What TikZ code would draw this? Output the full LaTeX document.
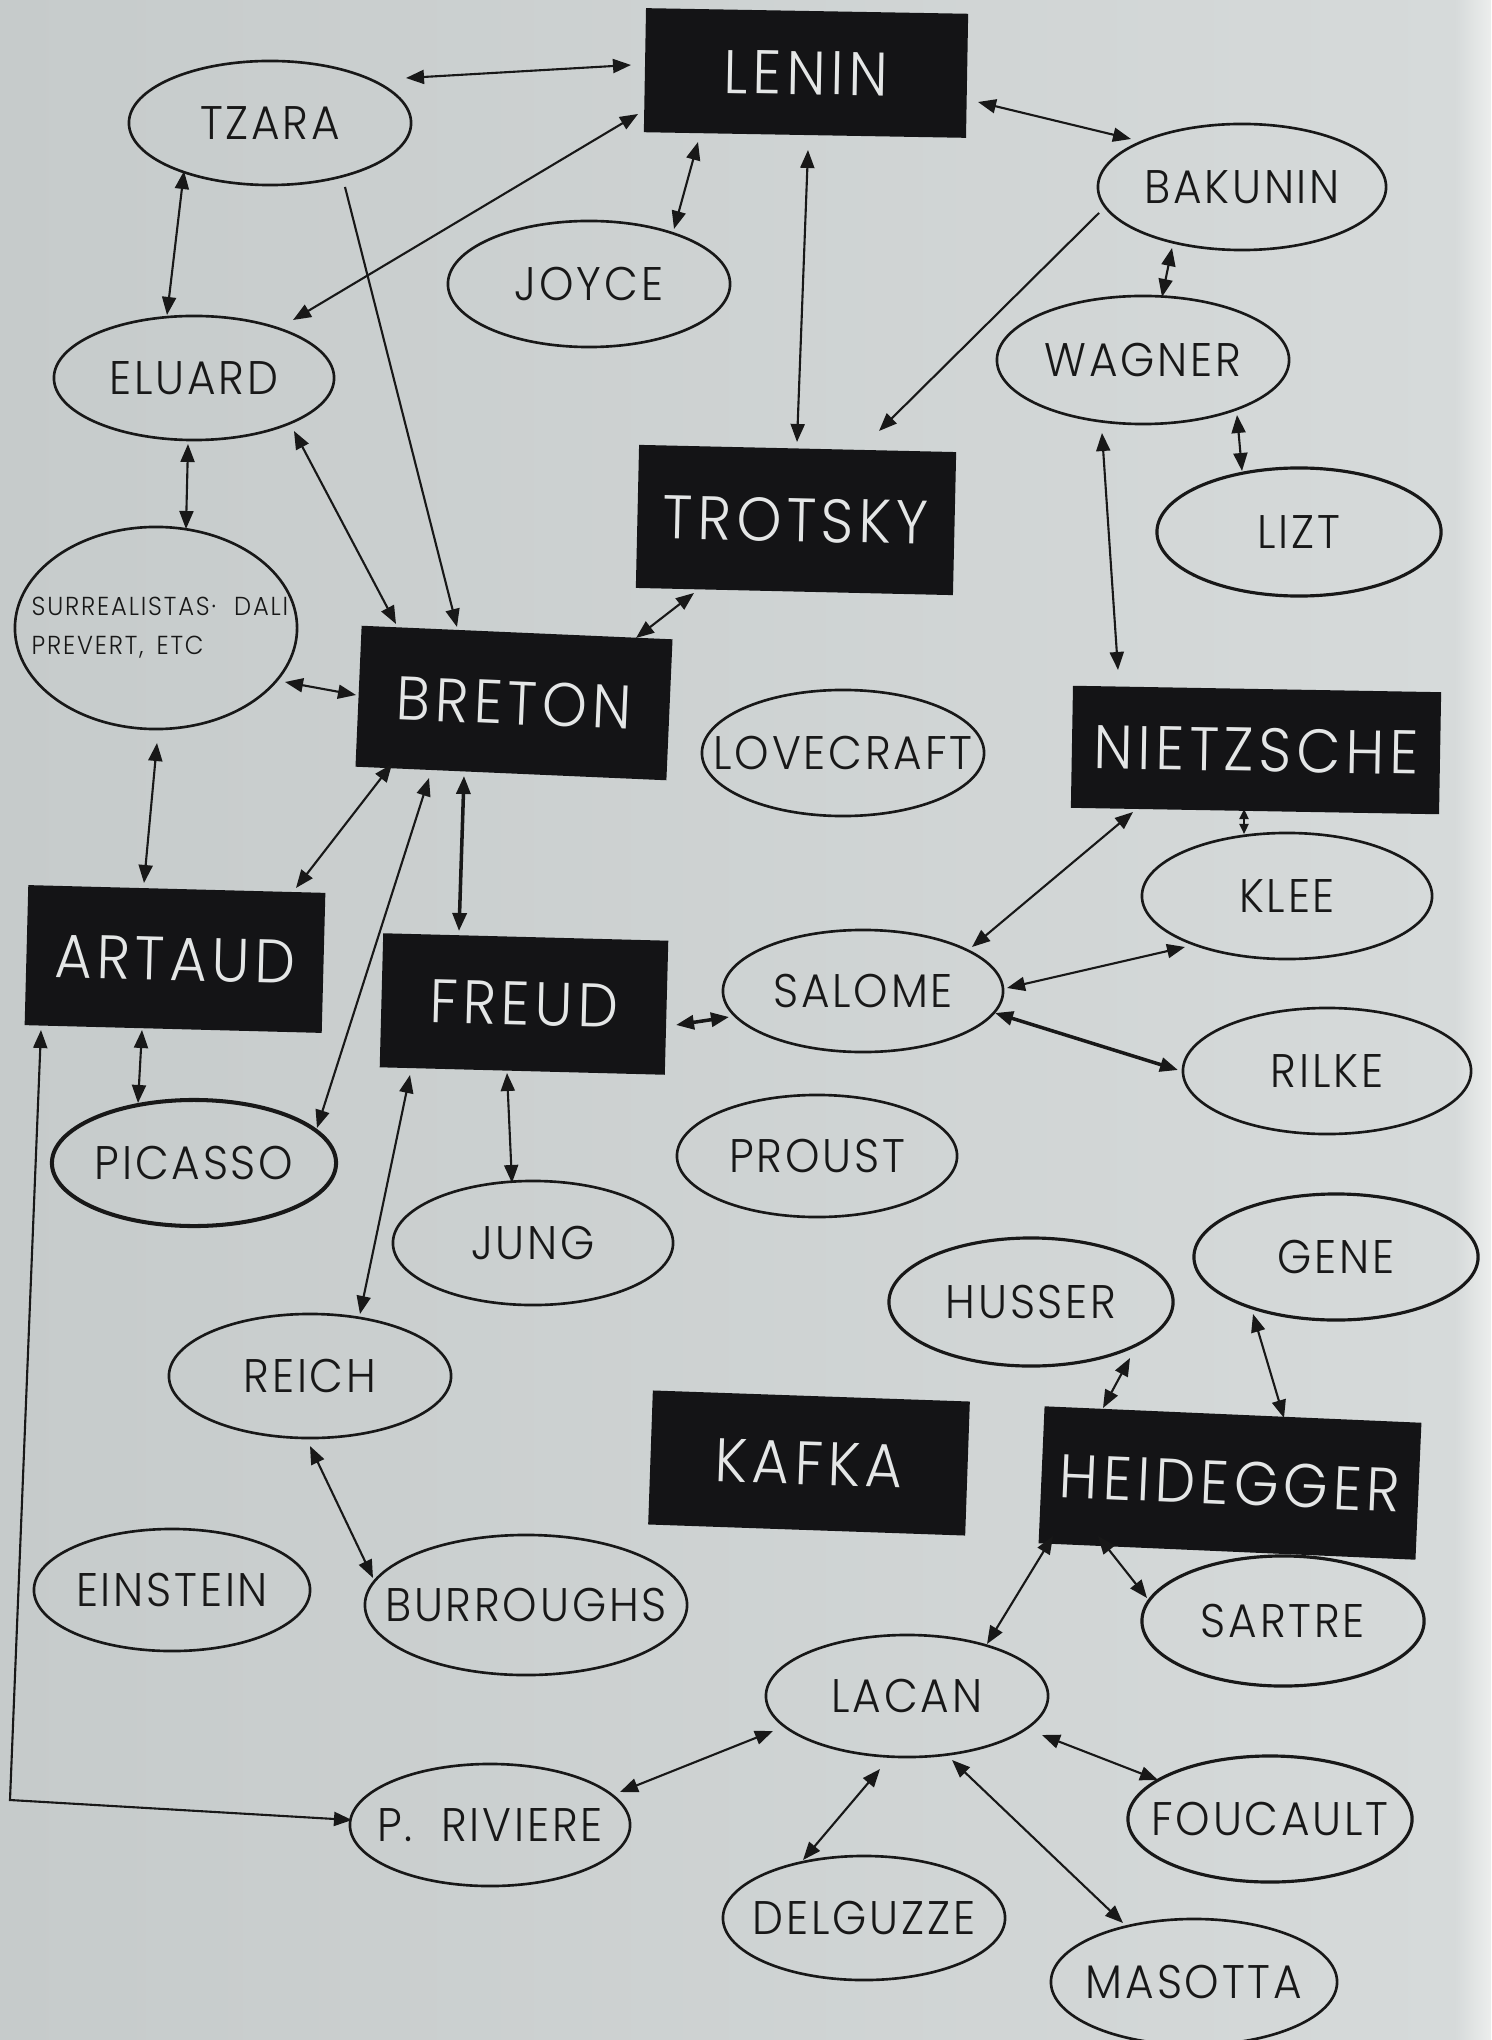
\documentclass[tikz,border=0pt]{standalone}
\usepackage{fontspec}
\IfFontExistsTF{Poppins Light}{\setmainfont{Poppins Light}[FakeStretch=0.93]}{\setmainfont{Poppins}[FakeStretch=0.93]}
\usetikzlibrary{shapes.geometric,arrows.meta,calc}
\definecolor{paperL}{RGB}{198,203,203}
\definecolor{paperR}{RGB}{214,218,218}
\definecolor{paperW}{RGB}{236,238,237}
\definecolor{ink}{RGB}{24,24,24}
\definecolor{boxc}{RGB}{20,20,22}
\definecolor{boxtext}{RGB}{228,230,230}
\newcommand{\elfont}{\fontsize{13.4}{16}\selectfont\addfontfeatures{LetterSpace=6}}
\newcommand{\bxfont}{\fontsize{17.5}{21}\selectfont\addfontfeatures{LetterSpace=8}}
\newcommand{\smfont}{\fontsize{7.4}{9}\selectfont\addfontfeatures{LetterSpace=7}}
\begin{document}
\begin{tikzpicture}[x=0.01cm,y=-0.01cm,
  >={Triangle[length=0.18cm,width=0.14cm]},
  el/.style={draw=ink, line width=0.75pt, ellipse, inner sep=0pt, text=ink, font=\elfont},
  bx/.style={fill=boxc, inner sep=0pt, text=boxtext, font=\bxfont},
  lk/.style={draw=ink, line width=0.6pt, <->},
  lkb/.style={draw=ink, line width=1pt, <->},
  lks/.style={draw=ink, line width=0.6pt, {Triangle[length=0.1cm,width=0.09cm]}-{Triangle[length=0.1cm,width=0.09cm]}},
  lkone/.style={draw=ink, line width=0.6pt, ->},
  sm/.style={anchor=base west, inner sep=0pt, text=ink, font=\smfont}]
\useasboundingbox (0,0) rectangle (1491,2040);
\shade[left color=paperL, right color=paperR] (0,0) rectangle (1456,2040);
\shade[left color=paperR, right color=paperW] (1455,0) rectangle (1491,2040);

% boxes
\node[bx, minimum width=3.22cm, minimum height=1.24cm, rotate=-1] (lenin) at (806,73) {LENIN};
\node[bx, minimum width=3.17cm, minimum height=1.43cm, rotate=-1.3] (trotsky) at (796,520) {TROTSKY};
\node[bx, minimum width=3.11cm, minimum height=1.41cm, rotate=-2.5] (breton) at (514,703) {BRETON};
\node[bx, minimum width=3.68cm, minimum height=1.22cm, rotate=-1] (nietzsche) at (1256,750) {NIETZSCHE};
\node[bx, minimum width=2.97cm, minimum height=1.40cm, rotate=-1.5] (artaud) at (175,959) {ARTAUD};
\node[bx, minimum width=2.85cm, minimum height=1.34cm, rotate=-1.5] (freud) at (524,1004) {FREUD};
\node[bx, minimum width=3.17cm, minimum height=1.34cm, rotate=-2] (kafka) at (809,1463) {KAFKA};
\node[bx, minimum width=3.77cm, minimum height=1.37cm, rotate=-2.5] (heidegger) at (1230,1483) {HEIDEGGER};

% ellipses
\node[el, minimum width=2.82cm, minimum height=1.24cm] (tzara) at (270,123) {\makebox[0pt]{TZARA}};
\node[el, minimum width=2.82cm, minimum height=1.26cm] (joyce) at (589,284) {\makebox[0pt]{JOYCE}};
\node[el, minimum width=2.80cm, minimum height=1.24cm] (eluard) at (194,378) {\makebox[0pt]{ELUARD}};
\node[el, minimum width=2.88cm, minimum height=1.26cm] (bakunin) at (1242,187) {\makebox[0pt]{BAKUNIN}};
\node[el, minimum width=2.92cm, minimum height=1.28cm] (wagner) at (1143,360) {\makebox[0pt]{WAGNER}};
\node[el, minimum width=2.84cm, minimum height=1.28cm, line width=0.9pt] (lizt) at (1299,532) {\makebox[0pt]{LIZT}};
\node[el, minimum width=2.82cm, minimum height=2.02cm] (surr) at (156,628) {};
\node[sm] (surrA) at (31,616) {SURREALISTAS·\hspace{0.7em}DALI};
\node[sm] (surrB) at (31,654) {PREVERT,\hspace{0.5em}ETC};
\node[el, minimum width=2.82cm, minimum height=1.26cm] (lovecraft) at (843,753) {\makebox[0pt]{LOVECRAFT}};
\node[el, minimum width=2.90cm, minimum height=1.26cm] (klee) at (1287,896) {\makebox[0pt]{KLEE}};
\node[el, minimum width=2.80cm, minimum height=1.22cm] (salome) at (863,991) {\makebox[0pt]{SALOME}};
\node[el, minimum width=2.88cm, minimum height=1.26cm] (rilke) at (1327,1071) {\makebox[0pt]{RILKE}};
\node[el, minimum width=2.80cm, minimum height=1.22cm] (proust) at (817,1156) {\makebox[0pt]{PROUST}};
\node[el, minimum width=2.84cm, minimum height=1.26cm, line width=1.15pt] (picasso) at (194,1163) {\makebox[0pt]{PICASSO}};
\node[el, minimum width=2.80cm, minimum height=1.24cm] (jung) at (533,1243) {\makebox[0pt]{JUNG}};
\node[el, minimum width=2.84cm, minimum height=1.26cm, line width=0.9pt] (gene) at (1336,1257) {\makebox[0pt]{GENE}};
\node[el, minimum width=2.84cm, minimum height=1.28cm, line width=0.9pt] (husser) at (1031,1302) {\makebox[0pt]{HUSSER}};
\node[el, minimum width=2.82cm, minimum height=1.24cm] (reich) at (310,1376) {\makebox[0pt]{REICH}};
\node[el, minimum width=2.76cm, minimum height=1.22cm] (einstein) at (172,1590) {\makebox[0pt]{EINSTEIN}};
\node[el, minimum width=3.22cm, minimum height=1.40cm] (burroughs) at (526,1605) {\makebox[0pt]{BURROUGHS}};
\node[el, minimum width=2.82cm, minimum height=1.30cm, line width=0.9pt] (sartre) at (1283,1621) {\makebox[0pt]{SARTRE}};
\node[el, minimum width=2.82cm, minimum height=1.22cm] (lacan) at (907,1696) {\makebox[0pt]{LACAN}};
\node[el, minimum width=2.80cm, minimum height=1.22cm] (riviere) at (490,1825) {\makebox[0pt]{P.\hspace{0.6em}RIVIERE}};
\node[el, minimum width=2.84cm, minimum height=1.26cm, line width=0.9pt] (foucault) at (1270,1819) {\makebox[0pt]{FOUCAULT}};
\node[el, minimum width=2.82cm, minimum height=1.24cm] (delguzze) at (864,1918) {\makebox[0pt]{DELGUZZE}};
\node[el, minimum width=2.86cm, minimum height=1.26cm] (masotta) at (1194,1982) {\makebox[0pt]{MASOTTA}};

\coordinate (elb) at (10,1800);

% connectors
\draw[lk] ($(tzara)+(136,-45)$) -- ($(lenin)+(-175,-8)$);
\draw[lk] ($(lenin)+(-168,41)$) -- ($(eluard)+(99,-58)$);
\draw[lkone] ($(tzara)+(75,64)$) -- ($(breton)+(-57,-76)$);
\draw[lk] ($(tzara)+(-86,48)$) -- ($(eluard)+(-27,-63)$);
\draw[lk] ($(lenin)+(-108,69)$) -- ($(joyce)+(85,-55)$);
\draw[lk] ($(eluard)+(100,53)$) -- ($(breton)+(-118,-79)$);
\draw[lk] ($(eluard)+(-6,66)$) -- ($(surr)+(30,-99)$);
\draw[lk] ($(surr)+(129,54)$) -- ($(breton)+(-158,-8)$);
\draw[lk] ($(trotsky)+(-102,73)$) -- ($(breton)+(122,-65)$);
\draw[lk] ($(lenin)+(2,77)$) -- ($(trotsky)+(1,-78)$);
\draw[lkone] ($(bakunin)+(-143,26)$) -- ($(trotsky)+(83,-89)$);
\draw[lk] ($(lenin)+(172,29)$) -- ($(bakunin)+(-111,-48)$);
\draw[lk] ($(bakunin)+(-70,61)$) -- ($(wagner)+(19,-63)$);
\draw[lk] ($(wagner)+(94,55)$) -- ($(lizt)+(-57,-61)$);
\draw[lk] ($(wagner)+(-41,73)$) -- ($(nietzsche)+(-138,-80)$);
\draw[lk] ($(breton)+(-122,61)$) -- ($(artaud)+(121,-71)$);
\draw[lk] ($(breton)+(-85,75)$) -- ($(picasso)+(123,-35)$);
\draw[lkb] ($(breton)+(-50,73)$) -- ($(freud)+(-65,-73)$);
\draw[lk] ($(surr)+(1,115)$) -- ($(artaud)+(-31,-76)$);
\draw[lk] ($(artaud)+(-33,71)$) -- ($(picasso)+(-56,-60)$);
\draw[lk] ($(artaud)+(-134,71)$) -- (elb) -- ($(riviere)+(-138,-5)$);
\draw[lkb] ($(freud)+(152,21)$) -- ($(salome)+(-134,26)$);
\draw[lk] ($(freud)+(-17,69)$) -- ($(jung)+(-21,-60)$);
\draw[lk] ($(freud)+(-114,71)$) -- ($(reich)+(50,-62)$);
\draw[lk] ($(nietzsche)+(-123,62)$) -- ($(salome)+(109,-44)$);
\draw[lks] ($(nietzsche)+(-12,59)$) -- ($(klee)+(-43,-62)$);
\draw[lk] ($(salome)+(144,-3)$) -- ($(klee)+(-102,51)$);
\draw[lkb] ($(salome)+(132,22)$) -- ($(rilke)+(-149,-1)$);
\draw[lk] ($(husser)+(99,56)$) -- ($(heidegger)+(-127,-75)$);
\draw[lk] ($(gene)+(-83,57)$) -- ($(heidegger)+(54,-65)$);
\draw[lk] ($(heidegger)+(-177,53)$) -- ($(lacan)+(80,-52)$);
\draw[lk] ($(heidegger)+(-132,53)$) -- ($(sartre)+(-136,-23)$);
\draw[lk] ($(lacan)+(-134,35)$) -- ($(riviere)+(130,-33)$);
\draw[lk] ($(lacan)+(135,39)$) -- ($(foucault)+(-112,-39)$);
\draw[lk] ($(lacan)+(-27,73)$) -- ($(delguzze)+(-61,-58)$);
\draw[lk] ($(lacan)+(45,64)$) -- ($(masotta)+(-71,-59)$);
\draw[lk] ($(reich)+(0,70)$) -- ($(burroughs)+(-153,-27)$);
\end{tikzpicture}
\end{document}
